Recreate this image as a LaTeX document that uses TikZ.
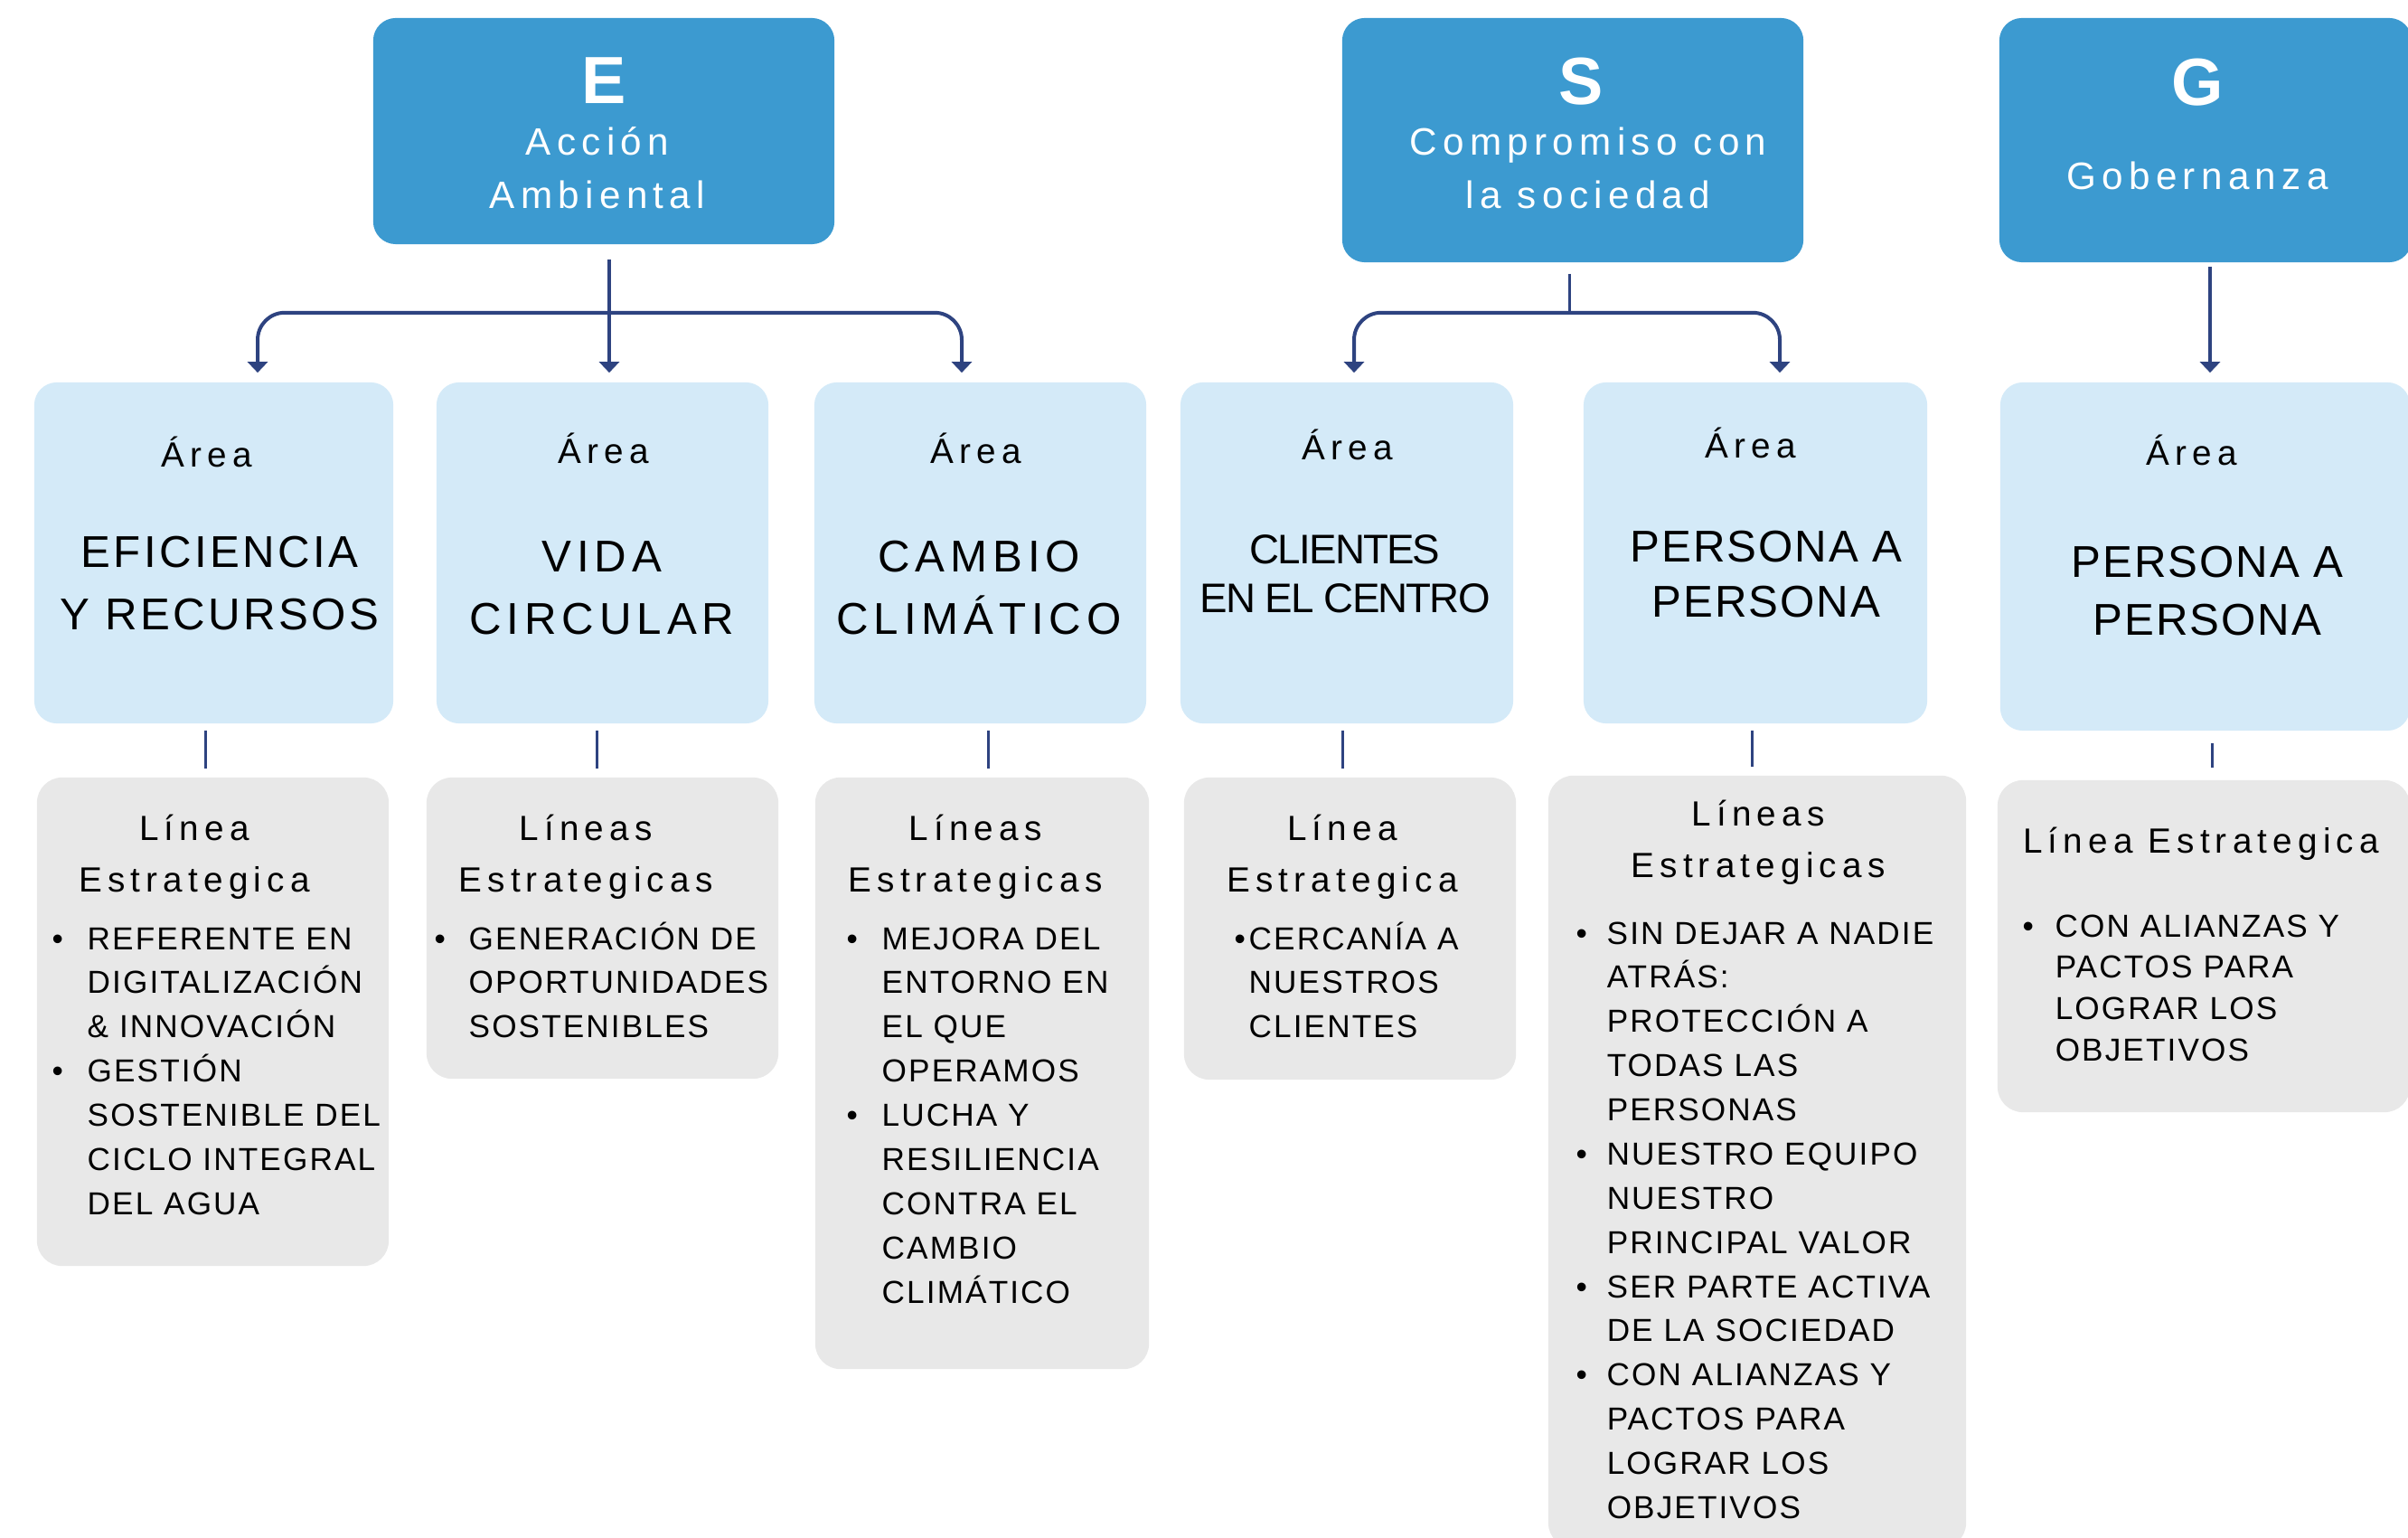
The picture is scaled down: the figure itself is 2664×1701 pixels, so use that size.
\documentclass[tikz,border=0pt]{standalone}
\usepackage{fontspec}
\setmainfont{Liberation Sans}
\newfontfamily\ttlfont[LetterSpace=15]{Liberation Sans}
\newfontfamily\hdfont[LetterSpace=16]{Liberation Sans}
\newfontfamily\nameA[LetterSpace=7]{Liberation Sans}
\newfontfamily\nameB[LetterSpace=12]{Liberation Sans}
\newfontfamily\nameC[LetterSpace=4]{Liberation Sans}
\newfontfamily\nameD[LetterSpace=-4]{Liberation Sans}
\newfontfamily\itemfont[LetterSpace=6]{Liberation Sans}
\usepackage{xcolor}
\usetikzlibrary{arrows.meta}

\definecolor{esgblue}{HTML}{3C9AD0}
\definecolor{arealight}{HTML}{D4EAF8}
\definecolor{linegray}{HTML}{E8E8E8}
\definecolor{navy}{HTML}{2E4380}

\begin{document}
\begin{tikzpicture}[x=0.01cm, y=-0.01cm,
  topbox/.style={fill=esgblue, rounded corners=0.25cm, inner sep=0pt},
  areabox/.style={fill=arealight, rounded corners=0.25cm, inner sep=0pt},
  linebox/.style={fill=linegray, rounded corners=0.28cm, inner sep=0pt},
  letter/.style={anchor=base, inner sep=0pt, text=white, font=\fontsize{21}{21}\selectfont\bfseries},
  ttl/.style={anchor=base, inner sep=0pt, align=center, text=white, font=\ttlfont\fontsize{12}{16.8}\selectfont},
  arealbl/.style={anchor=base, inner sep=0pt, font=\hdfont\fontsize{11}{13}\selectfont},
  areaname/.style={anchor=base, inner sep=0pt, align=center},
  linehd/.style={anchor=base, inner sep=0pt, align=center, font=\hdfont\fontsize{11}{16.2}\selectfont},
  items/.style={anchor=base west, inner sep=0pt, font=\itemfont\fontsize{10}{13.9}\selectfont},
  arr/.style={navy, line width=0.04cm, -{Triangle[length=0.12cm,width=0.22cm]}, shorten >=0.1cm},
  link/.style={navy, line width=0.03cm}]

\useasboundingbox (0,0) rectangle (2664,1701);
\clip (0,0) rectangle (2664,1701);

%ESG boxes%
\node[topbox, minimum width=5.1cm, minimum height=2.5cm] (E) at (668,145) {};
\node[topbox, minimum width=5.1cm, minimum height=2.7cm] (S) at (1740,155) {};
\node[topbox, minimum width=4.56cm, minimum height=2.7cm] (G) at (2440,155) {};

%area boxes%
\foreach \i/\cx/\cy/\w/\h in {1/236.5/611.5/3.97/3.77, 2/666.5/611.5/3.67/3.77, 3/1084.5/611.5/3.67/3.77,
  4/1490/611.5/3.68/3.77, 5/1942/611.5/3.8/3.77, 6/2439.5/615.5/4.53/3.85}
  \node[areabox, minimum width=\w cm, minimum height=\h cm] (a\i) at (\cx,\cy) {};

%strategic line boxes%
\foreach \i/\cx/\cy/\w/\h in {1/235.5/1130/3.89/5.4, 2/666.5/1026.5/3.89/3.33, 3/1086.5/1187/3.69/6.54,
  4/1493.5/1027/3.67/3.34, 5/1944/1285/4.62/8.54, 6/2438/1046.5/4.56/3.67}
  \node[linebox, minimum width=\w cm, minimum height=\h cm] (g\i) at (\cx,\cy) {};

%arrows E%
\draw[arr] ([xshift=0.06cm,yshift=-0.16cm]E.south) -- ([xshift=0.06cm]E.south |- a2.north);
\draw[arr, rounded corners=0.3cm] ([xshift=0.06cm,yshift=-0.75cm]E.south) -| ([xshift=0.485cm]a1.north);
\draw[arr, rounded corners=0.3cm] ([xshift=0.06cm,yshift=-0.75cm]E.south) -| ([xshift=-0.205cm]a3.north);

%arrows S%
\draw[link] ([xshift=-0.04cm,yshift=-0.12cm]S.south) -- ([xshift=-0.04cm,yshift=-0.55cm]S.south);
\draw[arr, rounded corners=0.3cm] ([xshift=-0.04cm,yshift=-0.55cm]S.south) -| ([xshift=0.08cm]a4.north);
\draw[arr, rounded corners=0.3cm] ([xshift=-0.04cm,yshift=-0.55cm]S.south) -| ([xshift=0.27cm]a5.north);

%arrow G%
\draw[arr] ([xshift=0.05cm,yshift=-0.04cm]G.south) -- ([xshift=0.05cm]G.south |- a6.north);

%area to lines%
\foreach \i/\dx in {1/-0.085, 2/-0.065, 3/0.085, 4/-0.05, 5/-0.04}
  \draw[link, shorten <=0.07cm, shorten >=0.09cm] ([xshift=\dx cm]a\i.south) -- ([xshift=\dx cm]a\i.south |- g\i.north);
\draw[link, shorten <=0.13cm, shorten >=0.13cm] ([xshift=0.075cm]a6.south) -- ([xshift=0.075cm]a6.south |- g6.north);

%titles%
\node[letter] (Eletter) at (668,115) {E};
\node[ttl] (Etext) at (661,231) {Acción\\Ambiental};
\node[letter] (Sletter) at (1749,116) {S};
\node[ttl] (Stext) at (1757,231) {Compromiso con\\la sociedad};
\node[letter] (Gletter) at (2431,117) {G};
\node[ttl] (Gtext) at (2431,210) {Gobernanza};

%area texts%
\foreach \i/\x/\y in {1/229/517, 2/668/513, 3/1080/513, 4/1491/509, 5/1937/507, 6/2425/515}
  \node[arealbl] (lbl\i) at (\x,\y) {Área};
\node[areaname, font=\nameA\fontsize{14}{19.9}\selectfont] (name1) at (243,697) {EFICIENCIA\\Y RECURSOS};
\node[areaname, font=\nameB\fontsize{14}{19.9}\selectfont] (name2) at (666,702) {VIDA\\CIRCULAR};
\node[areaname, font=\nameB\fontsize{14}{19.9}\selectfont] (name3) at (1083,702) {CAMBIO\\CLIMÁTICO};
\node[areaname, font=\nameD\fontsize{13}{15.6}\selectfont] (name4) at (1488,678) {CLIENTES\\EN EL CENTRO};
\node[areaname, font=\nameC\fontsize{14}{17.6}\selectfont] (name5) at (1954,683) {PERSONA A\\PERSONA};
\node[areaname, font=\nameC\fontsize{14}{18.2}\selectfont] (name6) at (2442,703) {PERSONA A\\PERSONA};

%line headers%
\node[linehd] (hd1) at (215,986) {Línea\\Estrategica};
\node[linehd] (hd2) at (648,986) {Líneas\\Estrategicas};
\node[linehd] (hd3) at (1079,986) {Líneas\\Estrategicas};
\node[linehd] (hd4) at (1485,986) {Línea\\Estrategica};
\node[linehd] (hd5) at (1945,970) {Líneas\\Estrategicas};
\node[linehd] (hd6) at (2435,943) {Línea Estrategica};

%bullet lists%
\node[items] (it1) at (57,1050) {\begin{tabular}[t]{@{}p{0.39cm}@{}l@{}}
\textbullet & REFERENTE EN\\
 & DIGITALIZACIÓN\\
 & \& INNOVACIÓN\\
\textbullet & GESTIÓN\\
 & SOSTENIBLE DEL\\
 & CICLO INTEGRAL\\
 & DEL AGUA
\end{tabular}};
\node[items] (it2) at (480,1050) {\begin{tabular}[t]{@{}p{0.38cm}@{}l@{}}
\textbullet & GENERACIÓN DE\\
 & OPORTUNIDADES\\
 & SOSTENIBLES
\end{tabular}};
\node[items] (it3) at (936,1050) {\begin{tabular}[t]{@{}p{0.39cm}@{}l@{}}
\textbullet & MEJORA DEL\\
 & ENTORNO EN\\
 & EL QUE\\
 & OPERAMOS\\
\textbullet & LUCHA Y\\
 & RESILIENCIA\\
 & CONTRA EL\\
 & CAMBIO\\
 & CLIMÁTICO
\end{tabular}};
\node[items] (it4) at (1365,1050) {\begin{tabular}[t]{@{}p{0.16cm}@{}l@{}}
\textbullet & CERCANÍA A\\
 & NUESTROS\\
 & CLIENTES
\end{tabular}};
\node[items] (it5) at (1743,1044) {\begin{tabular}[t]{@{}p{0.34cm}@{}l@{}}
\textbullet & SIN DEJAR A NADIE\\
 & ATRÁS:\\
 & PROTECCIÓN A\\
 & TODAS LAS\\
 & PERSONAS\\
\textbullet & NUESTRO EQUIPO\\
 & NUESTRO\\
 & PRINCIPAL VALOR\\
\textbullet & SER PARTE ACTIVA\\
 & DE LA SOCIEDAD\\
\textbullet & CON ALIANZAS Y\\
 & PACTOS PARA\\
 & LOGRAR LOS\\
 & OBJETIVOS
\end{tabular}};
\node[items, font=\itemfont\fontsize{10}{13}\selectfont] (it6) at (2237,1036) {\begin{tabular}[t]{@{}p{0.36cm}@{}l@{}}
\textbullet & CON ALIANZAS Y\\
 & PACTOS PARA\\
 & LOGRAR LOS\\
 & OBJETIVOS
\end{tabular}};

\end{tikzpicture}
\end{document}
